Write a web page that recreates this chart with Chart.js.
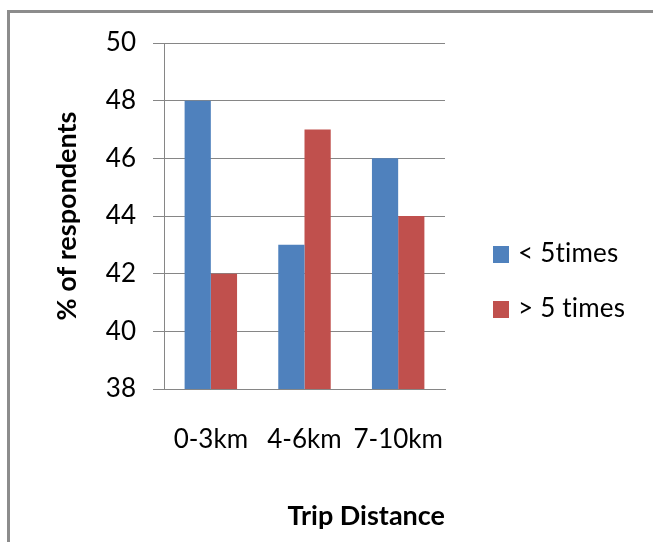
<!DOCTYPE html>
<html>
<head>
<meta charset="utf-8">
<script src="https://cdn.jsdelivr.net/npm/chart.js@4/dist/chart.umd.min.js"></script>
<style>
  html, body { margin: 0; padding: 0; background: #fff; }
  #wrap { position: relative; width: 653px; height: 542px; overflow: hidden; }
  #frame { position: absolute; left: 7px; top: 10px; width: 700px; height: 600px;
           border-left: 3px solid #8c8c8c; border-top: 3px solid #8c8c8c; }
  #chart { position: absolute; left: 0; top: 0; }
</style>
</head>
<body>
<div id="wrap">
  <div id="frame"></div>
  <canvas id="chart" width="653" height="542"></canvas>
</div>
<script>
// chart data
var categories = ['0-3km', '4-6km', '7-10km'];
var seriesNames = ['< 5times', '> 5 times'];
var lessThan5 = [48, 43, 46];
var moreThan5 = [42, 47, 44];
var yTicks = [38, 40, 42, 44, 46, 48, 50];

var FONT = 'Lato, "Open Sans", sans-serif';
var GRID = '#868686';

// legend drawn at the right, like the spreadsheet one
var sideLegend = {
    id: 'sideLegend',
    afterDraw: function(chart){
        var ctx = chart.ctx;
        var rows = [254, 309];
        ctx.save();
        ctx.font = '26px ' + FONT;
        ctx.letterSpacing = '0.2px'; // no "ti" ligature
        ctx.textBaseline = 'middle';
        ctx.textAlign = 'left';
        chart.data.datasets.forEach(function(ds, i){
            ctx.fillStyle = ds.backgroundColor;
            ctx.fillRect(493, rows[i] - 8, 16, 17);
            ctx.fillStyle = '#000';
            ctx.fillText(ds.label, 518, rows[i]);
        });
        ctx.restore();
    }
};

var ctx = document.getElementById('chart').getContext('2d');
var chart = new Chart(ctx, {
    type: 'bar',
    data: {
        labels: categories,
        datasets: [
            { label: seriesNames[0], data: lessThan5, backgroundColor: '#4F81BD' },
            { label: seriesNames[1], data: moreThan5, backgroundColor: '#C0504D' }
        ]
    },
    options: {
        responsive: false,
        animation: false,
        categoryPercentage: 0.56,
        barPercentage: 1,
        layout: {
            padding: { left: 47, right: 208, top: 43, bottom: 0 }
        },
        scales: {
            x: {
                grid: { display: false },
                border: { display: true, color: GRID },
                ticks: {
                    color: '#000',
                    padding: 27,
                    maxRotation: 0,
                    font: { family: FONT, size: 26 }
                },
                title: {
                    display: true,
                    text: 'Trip Distance',
                    align: 'end',
                    color: '#000',
                    padding: { top: 0, bottom: 10 },
                    font: { family: FONT, size: 27, weight: 'bold' }
                },
                afterFit: function(scale){ scale.height = 153; }
            },
            y: {
                min: 38,
                max: 50,
                afterBuildTicks: function(scale){
                    scale.ticks = yTicks.map(function(v){ return { value: v }; });
                },
                grid: { color: GRID, tickLength: 11, lineWidth: 1 },
                border: { color: GRID },
                ticks: {
                    color: '#000',
                    padding: 17,
                    font: { family: FONT, size: 26 }
                },
                title: {
                    display: true,
                    text: '% of respondents',
                    color: '#000',
                    padding: { top: 4, bottom: 0 },
                    font: { family: FONT, size: 27, weight: 'bold' }
                },
                afterFit: function(scale){ scale.width = 117; }
            }
        },
        plugins: {
            legend: { display: false },
            tooltip: { enabled: false }
        }
    },
    plugins: [sideLegend]
});
</script>
</body>
</html>
